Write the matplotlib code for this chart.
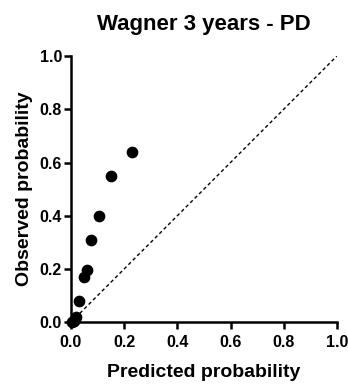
import matplotlib
matplotlib.use("Agg")
import matplotlib.pyplot as plt

predicted = [0.005, 0.012, 0.018, 0.03, 0.05, 0.062, 0.075, 0.105, 0.15, 0.23]
observed = [0.0, 0.005, 0.02, 0.08, 0.17, 0.195, 0.31, 0.40, 0.55, 0.64]
ticks = [0.0, 0.2, 0.4, 0.6, 0.8, 1.0]
tick_labels = ["0.0", "0.2", "0.4", "0.6", "0.8", "1.0"]

plt.rcParams['font.family'] = ['Liberation Sans', 'DejaVu Sans']
plt.rcParams['font.weight'] = 'bold'

fig = plt.figure(figsize=(3.48, 3.84), dpi=100)
ax = fig.add_axes([0.204, 0.161, 0.764, 0.693])
ax.plot([0, 1], [0, 1], linestyle=(0, (2.5, 2)), color='black', linewidth=1.0)
ax.scatter(predicted, observed, s=55, color='black', zorder=3, clip_on=False)
ax.set_xlim(0, 1)
ax.set_ylim(0, 1)
ax.set_xticks(ticks)
ax.set_xticklabels(tick_labels, fontsize=11.5, fontweight='bold')
ax.set_yticks(ticks)
ax.set_yticklabels(tick_labels, fontsize=11.5, fontweight='bold')
for s in ['top', 'right']:
    ax.spines[s].set_visible(False)
for s in ['left', 'bottom']:
    ax.spines[s].set_linewidth(1.8)
ax.tick_params(width=1.8, length=5, pad=1.5)
ax.tick_params(axis='x', pad=4)
ax.set_xlabel("Predicted probability", fontsize=14, fontweight='bold', labelpad=10)
ax.set_ylabel("Observed probability", fontsize=14, fontweight='bold', labelpad=5)
ax.set_title("Wagner 3 years - PD", fontsize=16, fontweight='bold', pad=19)
fig.savefig("out.png", dpi=100)
